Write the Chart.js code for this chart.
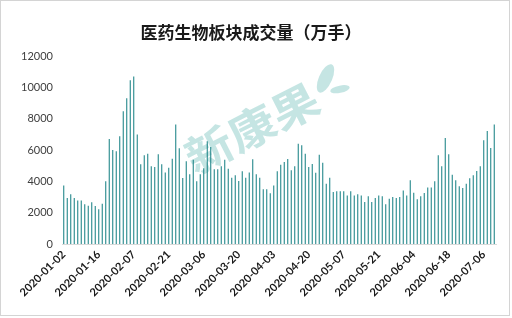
<!DOCTYPE html>
<html>
<head>
<meta charset="utf-8">
<script src="https://cdn.jsdelivr.net/npm/chart.js@4/dist/chart.umd.min.js"></script>
<style>
  html, body { margin: 0; padding: 0; background: #fff; }
  #wrap { width: 512px; height: 318px; position: relative; }
</style>
</head>
<body>
<div id="wrap"><canvas id="volumeChart" width="512" height="318"></canvas></div>
<script>
// trading days, 2020-01-02 .. 2020-07-09
const jan = ['01-02','01-03','01-06','01-07','01-08','01-09','01-10','01-13','01-14','01-15','01-16','01-17','01-20','01-21','01-22','01-23'];
const feb = ['02-03','02-04','02-05','02-06','02-07','02-10','02-11','02-12','02-13','02-14','02-17','02-18','02-19','02-20','02-21','02-24','02-25','02-26','02-27','02-28'];
const mar = ['03-02','03-03','03-04','03-05','03-06','03-09','03-10','03-11','03-12','03-13','03-16','03-17','03-18','03-19','03-20','03-23','03-24','03-25','03-26','03-27','03-30','03-31'];
const apr = ['04-01','04-02','04-03','04-07','04-08','04-09','04-10','04-13','04-14','04-15','04-16','04-17','04-20','04-21','04-22','04-23','04-24','04-27','04-28','04-29','04-30'];
const may = ['05-06','05-07','05-08','05-11','05-12','05-13','05-14','05-15','05-18','05-19','05-20','05-21','05-22','05-25','05-26','05-27','05-28','05-29'];
const jun = ['06-01','06-02','06-03','06-04','06-05','06-08','06-09','06-10','06-11','06-12','06-15','06-16','06-17','06-18','06-19','06-22','06-23','06-24','06-29','06-30'];
const jul = ['07-01','07-02','07-03','07-06','07-07','07-08','07-09'];

// volume, 万手
const janVol = [3750, 2940, 3180, 2940, 2790, 2790, 2540, 2450, 2670, 2430, 2220, 2580, 4010, 6720, 6010, 5930];
const febVol = [6890, 8490, 9320, 10470, 10720, 7010, 5100, 5670, 5780, 4970, 4930, 5740, 5100, 4580, 4880, 5460, 7650, 6120, 4220, 5290];
const marVol = [4460, 5390, 4010, 4460, 4840, 6570, 6200, 4780, 4780, 4970, 5390, 4820, 4240, 4390, 4030, 4650, 4240, 4580, 5420, 4460, 4240, 3500];
const aprVol = [3500, 3240, 3750, 4650, 5070, 5250, 5440, 4710, 4970, 6420, 6310, 5780, 4930, 5120, 4560, 5710, 5200, 3860, 4240, 3330, 3370];
const mayVol = [3370, 3370, 3110, 3370, 3110, 3180, 3110, 2690, 3050, 2690, 2940, 3110, 3050, 2540, 2900, 3010, 2940, 3010];
const junVol = [3430, 3110, 4070, 3280, 2860, 3050, 3260, 3620, 3620, 4010, 5670, 4970, 6780, 5740, 4430, 4070, 3690, 3580, 3860, 4200];
const julVol = [4390, 4670, 4970, 6630, 7230, 6140, 7650];

const yTicks = [0, 2000, 4000, 6000, 8000, 10000, 12000];
const labelEvery = 10;

document.addEventListener('DOMContentLoaded', () => {
  const labels = [...jan, ...feb, ...mar, ...apr, ...may, ...jun, ...jul].map(d => '2020-' + d);
  const volumes = [...janVol, ...febVol, ...marVol, ...aprVol, ...mayVol, ...junVol, ...julVol];

  // watermark + frame
  const decor = {
    id: 'decor',
    beforeDatasetsDraw(chart) {
      const ctx = chart.ctx;
      ctx.save();
      ctx.translate(252, 128);
      ctx.rotate(-27 * Math.PI / 180);
      ctx.fillStyle = 'rgba(150, 208, 204, 0.55)';
      ctx.font = 'bold 48px "Noto Sans CJK SC"';
      ctx.textAlign = 'center';
      ctx.textBaseline = 'middle';
      ctx.scale(1, 0.9);
      ctx.fillText('新康果', 0, 0);
      // leaves
      ctx.beginPath();
      ctx.ellipse(88, -12, 7, 16, 0.82, 0, Math.PI * 2);
      ctx.fill();
      ctx.beginPath();
      ctx.ellipse(96, 6, 10, 4, 0.3, 0, Math.PI * 2);
      ctx.fill();
      ctx.restore();
    },
    afterDraw(chart) {
      const ctx = chart.ctx;
      ctx.save();
      ctx.strokeStyle = '#d4d4d4';
      ctx.lineWidth = 1;
      ctx.strokeRect(0.5, 0.5, 509, 315);
      ctx.restore();
    }
  };

  const ctx = document.getElementById('volumeChart').getContext('2d');
  new Chart(ctx, {
    type: 'bar',
    data: {
      labels: labels,
      datasets: [{
        data: volumes,
        backgroundColor: '#1a8386',
        borderWidth: 0,
        categoryPercentage: 1,
        barPercentage: 0.3
      }]
    },
    options: {
      responsive: false,
      animation: false,
      layout: { padding: { left: 6, right: 16, top: 0, bottom: 14 } },
      plugins: {
        legend: { display: false },
        tooltip: { enabled: false },
        title: {
          display: true,
          text: '医药生物板块成交量（万手）',
          color: '#1a1a1a',
          font: { family: '"Noto Sans CJK SC"', size: 17, weight: 'bold' },
          padding: { top: 22, bottom: 14 }
        }
      },
      scales: {
        x: {
          grid: { display: false, drawTicks: false },
          border: { color: '#d9d9d9' },
          afterFit: (scale) => { scale.height = 60; },
          ticks: {
            autoSkip: false,
            maxRotation: 45,
            minRotation: 45,
            padding: 4,
            color: '#1a1a1a',
            font: { family: 'Lato', size: 11, weight: 'bold' },
            callback: function (value, index) {
              return index % labelEvery === 0 ? this.getLabelForValue(value) : '';
            }
          }
        },
        y: {
          min: 0,
          max: 12000,
          afterFit: (scale) => { scale.width = 56; },
          afterBuildTicks: (scale) => { scale.ticks = yTicks.map(v => ({ value: v })); },
          grid: { display: false, drawTicks: false },
          border: { display: false },
          ticks: {
            padding: 9,
            color: '#404040',
            font: { family: 'Lato', size: 11 },
            callback: (value) => String(value)
          }
        }
      }
    },
    plugins: [decor]
  });
});
</script>
</body>
</html>
